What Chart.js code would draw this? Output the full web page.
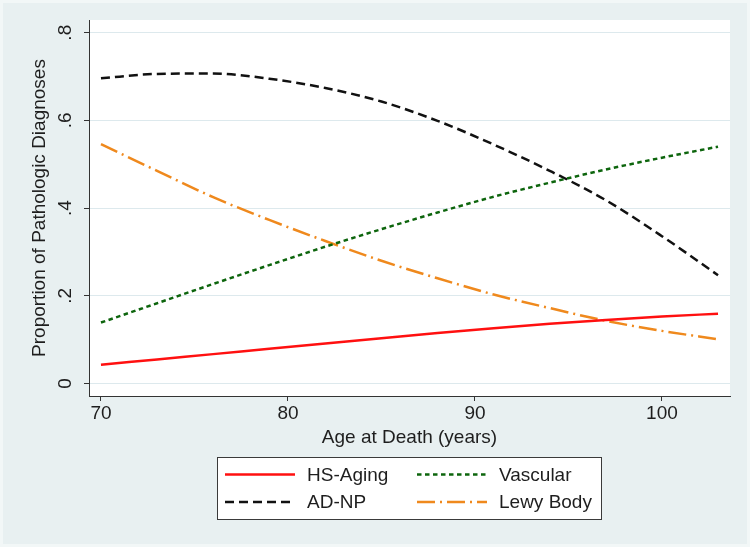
<!DOCTYPE html>
<html>
<head>
<meta charset="utf-8">
<script src="https://cdn.jsdelivr.net/npm/chart.js@4.4.1/dist/chart.umd.min.js"></script>
<style>
  html, body { margin: 0; padding: 0; background: #e9f1f2; }
  #wrap { width: 750px; height: 547px; }
</style>
</head>
<body>
<div id="wrap"><canvas id="chart" width="750" height="547"></canvas></div>
<script>
// values
const ages = [70, 73, 76, 79, 82, 85, 88, 91, 94, 97, 100, 103];
const hsAging  = [0.043, 0.055, 0.067, 0.079, 0.091, 0.103, 0.115, 0.126, 0.136, 0.145, 0.153, 0.159];
const adNp     = [0.696, 0.706, 0.707, 0.695, 0.674, 0.643, 0.599, 0.545, 0.485, 0.418, 0.336, 0.247];
const vascular = [0.139, 0.183, 0.227, 0.270, 0.312, 0.352, 0.390, 0.426, 0.458, 0.488, 0.515, 0.540];
const lewyBody = [0.546, 0.485, 0.425, 0.373, 0.325, 0.280, 0.240, 0.203, 0.172, 0.143, 0.120, 0.101];

const xTicks = [70, 80, 90, 100];
const yTicks = [0, 0.2, 0.4, 0.6, 0.8];
const yTickLabels = ['0', '.2', '.4', '.6', '.8'];

const FONT = '"Liberation Sans", Arial, sans-serif';
const FSIZE = 19;
const TEXT = '#1e1e1e';

const toPoints = vals => vals.map((v, i) => ({ x: ages[i], y: v }));

// order here = legend order (row by row)
const series = [
  { label: 'HS-Aging',  data: hsAging,  color: '#ff1010', dash: [] },
  { label: 'Vascular',  data: vascular, color: '#0d650d', dash: [4.5, 3.5] },
  { label: 'AD-NP',     data: adNp,     color: '#111111', dash: [9, 5] },
  { label: 'Lewy Body', data: lewyBody, color: '#ef891d', dash: [18, 5, 2, 5] }
];

const bgPlugin = {
  id: 'bg',
  beforeDraw(chart) {
    const { ctx, chartArea: a } = chart;
    ctx.save();
    ctx.fillStyle = '#f2f7f7';
    ctx.fillRect(0, 0, chart.width, chart.height);
    ctx.fillStyle = '#e8f0f1';
    ctx.fillRect(3, 3, chart.width - 6, chart.height - 6);
    ctx.fillStyle = '#ffffff';
    ctx.fillRect(a.left, a.top, a.right - a.left, a.bottom - a.top);
    ctx.restore();
  }
};

// rotated y tick labels, placed with the y scale
const yLabelPlugin = {
  id: 'yLabels',
  afterDraw(chart) {
    const { ctx } = chart;
    const y = chart.scales.y;
    ctx.save();
    ctx.font = FSIZE + 'px ' + FONT;
    ctx.fillStyle = TEXT;
    ctx.textAlign = 'center';
    ctx.textBaseline = 'middle';
    yTicks.forEach((v, i) => {
      ctx.save();
      ctx.translate(66, y.getPixelForValue(v));
      ctx.rotate(-Math.PI / 2);
      ctx.fillText(yTickLabels[i], 0, 0);
      ctx.restore();
    });
    ctx.restore();
  }
};

// boxed 2x2 legend under the axis title
const legendPlugin = {
  id: 'boxLegend',
  afterDraw(chart) {
    const { ctx } = chart;
    const box = { x: 217.5, y: 457.5, w: 384, h: 62 };
    ctx.save();
    ctx.fillStyle = '#ffffff';
    ctx.fillRect(box.x, box.y, box.w, box.h);
    ctx.strokeStyle = '#3a3a3a';
    ctx.lineWidth = 1;
    ctx.strokeRect(box.x, box.y, box.w, box.h);
    ctx.font = FSIZE + 'px ' + FONT;
    ctx.textBaseline = 'middle';
    ctx.textAlign = 'left';
    const colX = [225, 417];
    const rowY = [474.5, 502];
    series.forEach((s, i) => {
      const cx = colX[i % 2];
      const cy = rowY[Math.floor(i / 2)];
      ctx.strokeStyle = s.color;
      ctx.lineWidth = 2.5;
      ctx.setLineDash(s.dash);
      ctx.beginPath();
      ctx.moveTo(cx, cy);
      ctx.lineTo(cx + 70, cy);
      ctx.stroke();
      ctx.setLineDash([]);
      ctx.fillStyle = TEXT;
      ctx.fillText(s.label, cx + 82, cy + 1);
    });
    ctx.restore();
  }
};

const chart = new Chart(document.getElementById('chart'), {
  type: 'line',
  data: {
    datasets: series.map(s => ({
      label: s.label,
      data: toPoints(s.data),
      borderColor: s.color,
      borderDash: s.dash,
      borderWidth: 2.5,
      pointRadius: 0,
      cubicInterpolationMode: 'monotone',
      fill: false
    }))
  },
  options: {
    responsive: false,
    animation: false,
    layout: { padding: { left: 0, right: 20, top: 20, bottom: 0 } },
    plugins: {
      legend: { display: false },
      tooltip: { enabled: false }
    },
    scales: {
      x: {
        type: 'linear',
        min: 69.36,
        max: 103.64,
        afterBuildTicks: s => { s.ticks = xTicks.map(v => ({ value: v })); },
        afterFit: s => { s.height = 151; },
        ticks: { font: { family: FONT, size: FSIZE }, color: TEXT, padding: 1, maxRotation: 0 },
        grid: { drawOnChartArea: false, drawTicks: true, tickLength: 5, tickColor: '#333', tickWidth: 1 },
        border: { display: true, color: '#333', width: 1 },
        title: {
          display: true,
          text: 'Age at Death (years)',
          font: { family: FONT, size: FSIZE },
          color: TEXT,
          padding: { top: 0, bottom: 98 }
        }
      },
      y: {
        type: 'linear',
        min: -0.0285,
        max: 0.829,
        afterBuildTicks: s => { s.ticks = yTicks.map(v => ({ value: v })); },
        afterFit: s => { s.width = 89; },
        ticks: { display: false },
        grid: { color: '#dde9ed', lineWidth: 1, drawTicks: true, tickLength: 5, tickColor: '#333', tickWidth: 1 },
        border: { display: true, color: '#333', width: 1 },
        title: {
          display: true,
          text: 'Proportion of Pathologic Diagnoses',
          font: { family: FONT, size: FSIZE },
          color: TEXT,
          padding: { top: 28, bottom: 0 }
        }
      }
    }
  },
  plugins: [bgPlugin, yLabelPlugin, legendPlugin]
});
</script>
</body>
</html>
